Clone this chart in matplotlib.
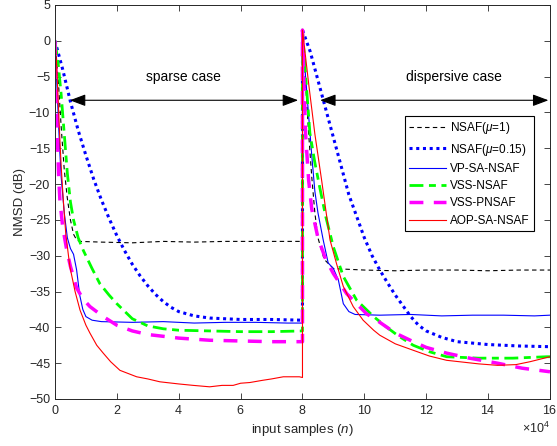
import numpy as np
import matplotlib
matplotlib.use("Agg")
import matplotlib.pyplot as plt

plt.rcParams['font.family'] = ['Liberation Sans', 'DejaVu Sans']
plt.rcParams['mathtext.fontset'] = 'custom'
plt.rcParams['mathtext.rm'] = 'Liberation Sans'
plt.rcParams['mathtext.it'] = 'Liberation Sans:italic'

# curves, x in units of 1e4 samples, y in dB
nsaf1_x = [0, 0.1, 0.2, 0.3, 0.4, 0.5, 0.6, 0.7, 0.8, 1.5, 2.5, 3.5, 4.5, 5.5, 6.5, 7.5, 8.0,
           8.0, 8.1, 8.2, 8.3, 8.4, 8.5, 8.7, 9.0, 10, 11, 12, 13, 14, 15, 16]
nsaf1_y = [0, -5, -12, -18, -22, -25, -27, -27.8, -28, -28.1, -28.2, -28, -28.1, -28, -28, -28, -28,
           1.5, -6, -13, -19, -24, -27.5, -30.5, -31.8, -32, -32.1, -32, -32, -32.1, -32, -32]

nsaf015_x = [0, 0.25, 0.5, 0.75, 1.0, 1.25, 1.5, 1.75, 2.0, 2.25, 2.5, 2.75, 3.0, 3.25, 3.5, 3.75,
             4.0, 4.5, 5.0, 6.0, 7.0, 8.0,
             8.0, 8.25, 8.5, 8.75, 9.0, 9.25, 9.5, 9.75, 10.0, 10.25, 10.5, 10.75, 11.0, 11.25,
             11.5, 11.75, 12.0, 12.5, 13.0, 14.0, 15.0, 16.0]
nsaf015_y = [0, -4, -8.5, -12.5, -16, -19.3, -22.2, -24.8, -27.2, -29.3, -31.2, -32.8, -34.2, -35.4,
             -36.4, -37.2, -37.8, -38.4, -38.7, -38.9, -38.9, -39.0,
             1.5, -1.5, -5.5, -9.5, -13.5, -17.5, -21.5, -24.5, -27.5, -30, -32, -33.8, -35.5, -37,
             -38.5, -39.7, -40.5, -41.4, -42, -42.4, -42.6, -42.7]

vpsa_x = [0, 0.05, 0.1, 0.15, 0.2, 0.3, 0.4, 0.5, 0.6, 0.7, 0.8, 0.9, 1.0, 1.2, 1.5, 2.5, 3.5, 4.5,
          5.5, 6.5, 7.5, 8.0,
          8.0, 8.1, 8.2, 8.3, 8.4, 8.5, 8.67, 8.83, 9.0, 9.16, 9.32, 9.5, 9.7, 10.5, 11.5, 12.5,
          13.5, 14.5, 15.5, 16.0]
vpsa_y = [0, -5, -10, -15, -19, -24, -27.5, -29, -29.8, -32, -35.5, -37.5, -38.5, -39, -39.2, -39.3,
          -39.2, -39.4, -39.3, -39.3, -39.4, -39.4,
          1.5, -5, -10.5, -16, -21, -24, -27.8, -31, -31.8, -33.4, -36.7, -37.8, -38.2, -38.3,
          -38.2, -38.4, -38.3, -38.3, -38.4, -38.3]

vss_x = [0, 0.1, 0.2, 0.3, 0.4, 0.5, 0.6, 0.75, 0.92, 1.2, 1.45, 1.75, 2.0, 2.5, 3.0, 3.5, 4.0,
         5.0, 6.0, 7.0, 8.0,
         8.0, 8.08, 8.24, 8.4, 8.56, 8.75, 9.0, 9.32, 9.75, 10.3, 10.7, 11.1, 11.58, 12.1, 12.66,
         13.7, 14.8, 15.9, 16.0]
vss_y = [0, -3, -7.5, -13, -18.5, -22.5, -25, -27.5, -29.3, -31.8, -33.9, -35.5, -36.7, -38.8,
         -39.8, -40.2, -40.4, -40.5, -40.6, -40.6, -40.5,
         1.5, -3.6, -12.9, -17, -20.5, -24.5, -28.8, -32.9, -36.2, -38.5, -39.9, -41.2, -42.5,
         -43.4, -44.1, -44.3, -44.3, -44.1, -44.1]

vssp_x = [0, 0.03, 0.06, 0.09, 0.12, 0.16, 0.25, 0.38, 0.5, 0.7, 0.9, 1.13, 1.56, 2.0, 2.5, 3.0,
          4.0, 5.0, 6.0, 7.0, 8.0,
          8.0, 8.05, 8.1, 8.2, 8.3, 8.5, 8.75, 9.0, 9.43, 10.07, 10.5, 11.0, 11.58, 12.0, 12.66,
          13.4, 14.3, 15.1, 16.0]
vssp_y = [0, -5, -10, -15, -19, -22.3, -26, -29.2, -31.5, -34.5, -36, -37.1, -38.5, -39.7, -40.5,
          -41, -41.5, -41.8, -41.9, -42, -42,
          1.5, -6, -13, -19.5, -23.5, -27.5, -30.5, -32.5, -35.3, -38.1, -39.3, -40.8, -42, -42.8,
          -43.6, -44.3, -45, -45.7, -46.2]

aop_x = [0, 0.05, 0.1, 0.15, 0.2, 0.27, 0.35, 0.48, 0.65, 0.81, 1.0, 1.13, 1.35, 1.56, 1.8, 2.1,
         2.4, 2.64, 3.0, 3.39, 4.0, 4.47, 5.0, 5.4, 5.76, 6.0, 6.3, 6.7, 7.0, 7.38, 7.9, 8.0,
         8.0, 8.2, 8.4, 8.62, 8.89, 9.1, 9.32, 9.64, 9.96, 10.3, 10.5, 11.0, 11.58, 12.1, 12.66,
         13.7, 14.3, 14.9, 15.35, 16.0]
aop_y = [0, -3, -8, -13, -17.5, -22.3, -27, -31.5, -35, -37.6, -39.7, -40.8, -42.5, -43.6, -44.8,
         -46, -46.5, -46.9, -47.2, -47.6, -47.9, -48.1, -48.3, -48.1, -48.1, -47.8, -47.7, -47.4,
         -47.2, -46.9, -46.9, -47,
         1.5, -6, -13, -19.5, -27.8, -31.1, -34.3, -37.1, -39, -40.4, -41.1, -42.3, -43.2, -44,
         -44.6, -45.1, -45.3, -45.2, -44.8, -44.1]

legend_labels = ['NSAF($\\mu$=1)', 'NSAF($\\mu$=0.15)', 'VP-SA-NSAF', 'VSS-NSAF', 'VSS-PNSAF',
                 'AOP-SA-NSAF']

fig = plt.figure(figsize=(5.57, 4.46), dpi=100)
ax = fig.add_axes([0.0987, 0.1054, 0.8887, 0.8834])

sc = 1e4
ax.plot(np.array(nsaf1_x) * sc, nsaf1_y, color='k', ls=(0, (4, 3)), lw=0.8, label=legend_labels[0])
ax.plot(np.array(nsaf015_x) * sc, nsaf015_y, color='b', ls=(0, (1, 1.2)), lw=2.2, label=legend_labels[1])
ax.plot(np.array(vpsa_x) * sc, vpsa_y, color='b', ls='-', lw=0.8, label=legend_labels[2])
ax.plot(np.array(vss_x) * sc, vss_y, color=(0, 1, 0), ls=(0, (5, 2, 2.5, 2)), lw=2.0, label=legend_labels[3])
ax.plot(np.array(vssp_x) * sc, vssp_y, color=(1, 0, 1), ls=(0, (4, 3)), lw=2.5, label=legend_labels[4])
ax.plot(np.array(aop_x) * sc, aop_y, color='r', ls='-', lw=0.8, label=legend_labels[5])

ax.set_xlim(0, 16e4)
ax.set_ylim(-50, 5)
ax.set_xticks(np.arange(0, 16.1e4, 2e4))
ax.set_yticks(np.arange(-50, 6, 5))
ax.ticklabel_format(axis='x', style='sci', scilimits=(4, 4), useMathText=True)
ax.tick_params(direction='in', top=True, right=True, labelsize=9, length=4, width=0.6,
               colors='0.15')
for s in ax.spines.values():
    s.set_color('0.15')
    s.set_linewidth(0.7)
offset = ax.xaxis.get_offset_text()
offset.set_fontsize(9)
offset.set_y(-0.03)

ax.set_xlabel('input samples ($n$)', fontsize=9.5, color='0.15', labelpad=4)
ax.set_ylabel('NMSD (dB)', fontsize=9.5, color='0.15', labelpad=2)

arrow = dict(arrowstyle='<|-|>,head_length=0.8,head_width=0.3', color='k', lw=0.8,
             mutation_scale=12, shrinkA=0, shrinkB=0)
ax.annotate('', xy=(0.48e4, -8.3), xytext=(7.86e4, -8.3), arrowprops=arrow)
ax.annotate('', xy=(8.57e4, -8.3), xytext=(15.95e4, -8.3), arrowprops=arrow)
ax.text(4.15e4, -5.0, 'sparse case', ha='center', va='center', fontsize=10)
ax.text(12.9e4, -5.0, 'dispersive case', ha='center', va='center', fontsize=10)

leg = ax.legend(loc='upper right', bbox_to_anchor=(0.968, 0.718), fontsize=8.5, fancybox=False,
                framealpha=1, edgecolor='k', handlelength=3.1, handletextpad=0.4,
                labelspacing=0.45, borderpad=0.35, borderaxespad=0)
leg.get_frame().set_linewidth(0.8)

fig.savefig('out.png', dpi=100)
